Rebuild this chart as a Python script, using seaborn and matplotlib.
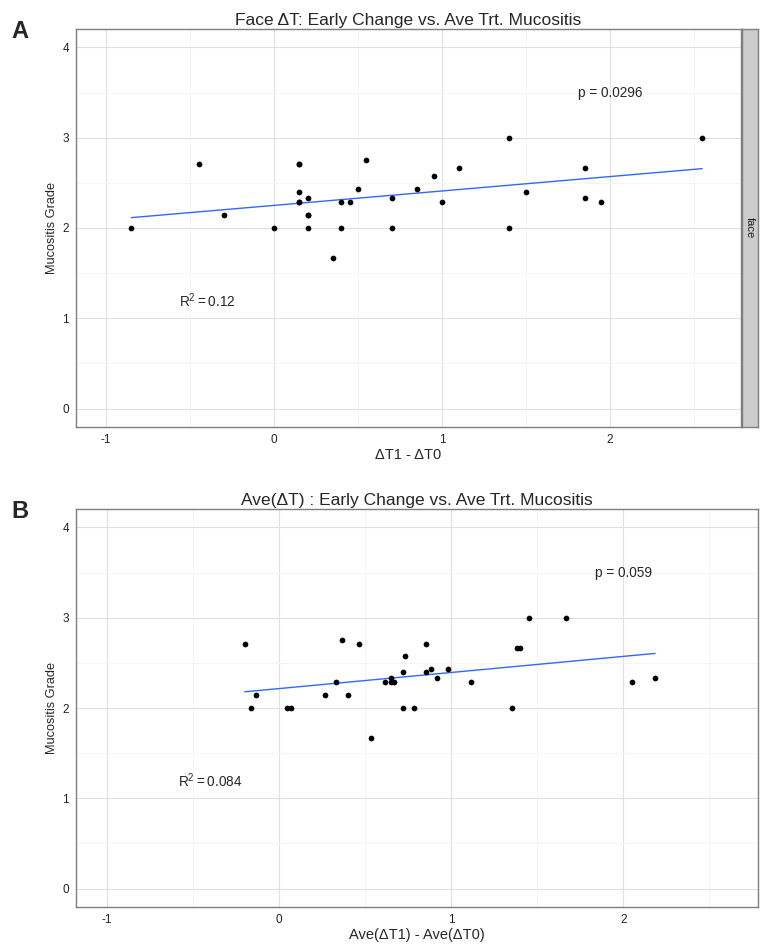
import numpy as np
import pandas as pd
import matplotlib
matplotlib.use("Agg")
import matplotlib.pyplot as plt
import seaborn as sns
from matplotlib.ticker import MultipleLocator

# Panel A: face dT1 - dT0 vs mucositis grade
face_dx = [-0.85, -0.45, -0.30, 0.00, 0.15, 0.15, 0.15, 0.20, 0.20, 0.20,
           0.35, 0.40, 0.40, 0.45, 0.50, 0.55, 0.70, 0.70, 0.85, 0.95,
           1.00, 1.10, 1.40, 1.40, 1.50, 1.85, 1.85, 1.95, 2.55,
           0.15, 0.20, 0.15]
face_grade = [2.000, 2.714, 2.143, 2.000, 2.714, 2.400, 2.286, 2.333, 2.143, 2.000,
              1.667, 2.286, 2.000, 2.286, 2.429, 2.750, 2.333, 2.000, 2.429, 2.571,
              2.286, 2.667, 3.000, 2.000, 2.400, 2.667, 2.333, 2.286, 3.000,
              2.714, 2.143, 2.286]

# Panel B: Ave(dT1) - Ave(dT0) vs mucositis grade
ave_dx = [-0.200, -0.166, -0.134, 0.046, 0.069, 0.266, 0.332, 0.366, 0.398, 0.465,
          0.532, 0.616, 0.651, 0.651, 0.669, 0.717, 0.717, 0.733, 0.783, 0.851,
          0.851, 0.884, 0.917, 0.983, 1.116, 1.351, 1.380, 1.399, 1.452, 1.667,
          2.052, 2.184]
ave_grade = [2.714, 2.000, 2.143, 2.000, 2.000, 2.143, 2.286, 2.750, 2.143, 2.714,
             1.667, 2.286, 2.333, 2.286, 2.286, 2.400, 2.000, 2.571, 2.000, 2.714,
             2.400, 2.429, 2.333, 2.429, 2.286, 2.000, 2.667, 2.667, 3.000, 3.000,
             2.286, 2.333]

panels = [
    {"x": face_dx, "y": face_grade, "title": "Face \u0394T: Early Change vs. Ave Trt. Mucositis",
     "xlabel": "\u0394T1 - \u0394T0", "p": "p = 0.0296", "r2": r"$\mathregular{R^2 = 0.12}$",
     "tag": "A", "strip": "face"},
    {"x": ave_dx, "y": ave_grade, "title": "Ave(\u0394T) : Early Change vs. Ave Trt. Mucositis",
     "xlabel": "Ave(\u0394T1) - Ave(\u0394T0)", "p": "p = 0.059", "r2": r"$\mathregular{R^2 = 0.084}$",
     "tag": "B", "strip": None},
]

sns.set_style("white")
plt.rcParams['font.family'] = ['Liberation Sans', 'DejaVu Sans']
plt.rcParams['axes.unicode_minus'] = False

W, H = 766, 947
fig = plt.figure(figsize=(W / 100, H / 100), dpi=100)

# axes boxes in pixels: left, top, right, bottom
boxes = [(76, 29.3, 740.7, 426.7), (76, 509.3, 757.7, 906.7)]
grey50 = "#7f7f7f"

for pnl, (l, t, r, b) in zip(panels, boxes):
    ax = fig.add_axes([l / W, 1 - b / H, (r - l) / W, (b - t) / H])
    df = pd.DataFrame({"dx": pnl["x"], "grade": pnl["y"]})
    sns.regplot(data=df, x="dx", y="grade", ax=ax, ci=None,
                scatter_kws={"s": 17, "color": "black", "alpha": 1,
                             "linewidths": 0, "zorder": 3},
                line_kws={"color": "#3366FF", "lw": 1.0, "zorder": 2})

    ax.set_xlim(-1.18, 2.78)
    ax.set_ylim(-0.2, 4.2)
    ax.xaxis.set_major_locator(MultipleLocator(1))
    ax.yaxis.set_major_locator(MultipleLocator(1))
    ax.xaxis.set_minor_locator(MultipleLocator(0.5))
    ax.yaxis.set_minor_locator(MultipleLocator(0.5))
    ax.grid(True, which="major", color="#e0e0e0", lw=0.8, zorder=0)
    ax.grid(True, which="minor", color="#f5f5f5", lw=0.8, zorder=0)
    ax.set_axisbelow(True)
    ax.tick_params(which="major", length=3, width=0.8, color=grey50, pad=2,
                   labelsize=8.5, labelcolor="#222222")
    ax.tick_params(which="minor", length=0)
    for s in ax.spines.values():
        s.set_color(grey50)
        s.set_linewidth(1.0)

    ax.set_title(pnl["title"], fontsize=12.5, pad=3)
    ax.set_xlabel(pnl["xlabel"], fontsize=10.5, labelpad=2)
    ax.set_ylabel("Mucositis Grade", fontsize=9.2, labelpad=3)

    ax.text(2.0, 3.5, pnl["p"], ha="center", va="center", fontsize=9.8)
    ax.text(-0.4, 1.2, pnl["r2"], ha="center", va="center", fontsize=9.8)

    fig.text(19.5 / W, 1 - (t + 2) / H, pnl["tag"], fontsize=17, fontweight="bold",
             ha="center", va="center")

    if pnl["strip"]:
        sax = fig.add_axes([741.5 / W, 1 - b / H, 16.5 / W, (b - t) / H])
        sax.set_facecolor("#cccccc")
        sax.set_xticks([])
        sax.set_yticks([])
        for s in sax.spines.values():
            s.set_color(grey50)
            s.set_linewidth(1.0)
        sax.text(0.5, 0.5, pnl["strip"], rotation=-90, ha="center", va="center",
                 fontsize=8, color="#1a1a1a", transform=sax.transAxes)

fig.savefig("out.png", dpi=100)
